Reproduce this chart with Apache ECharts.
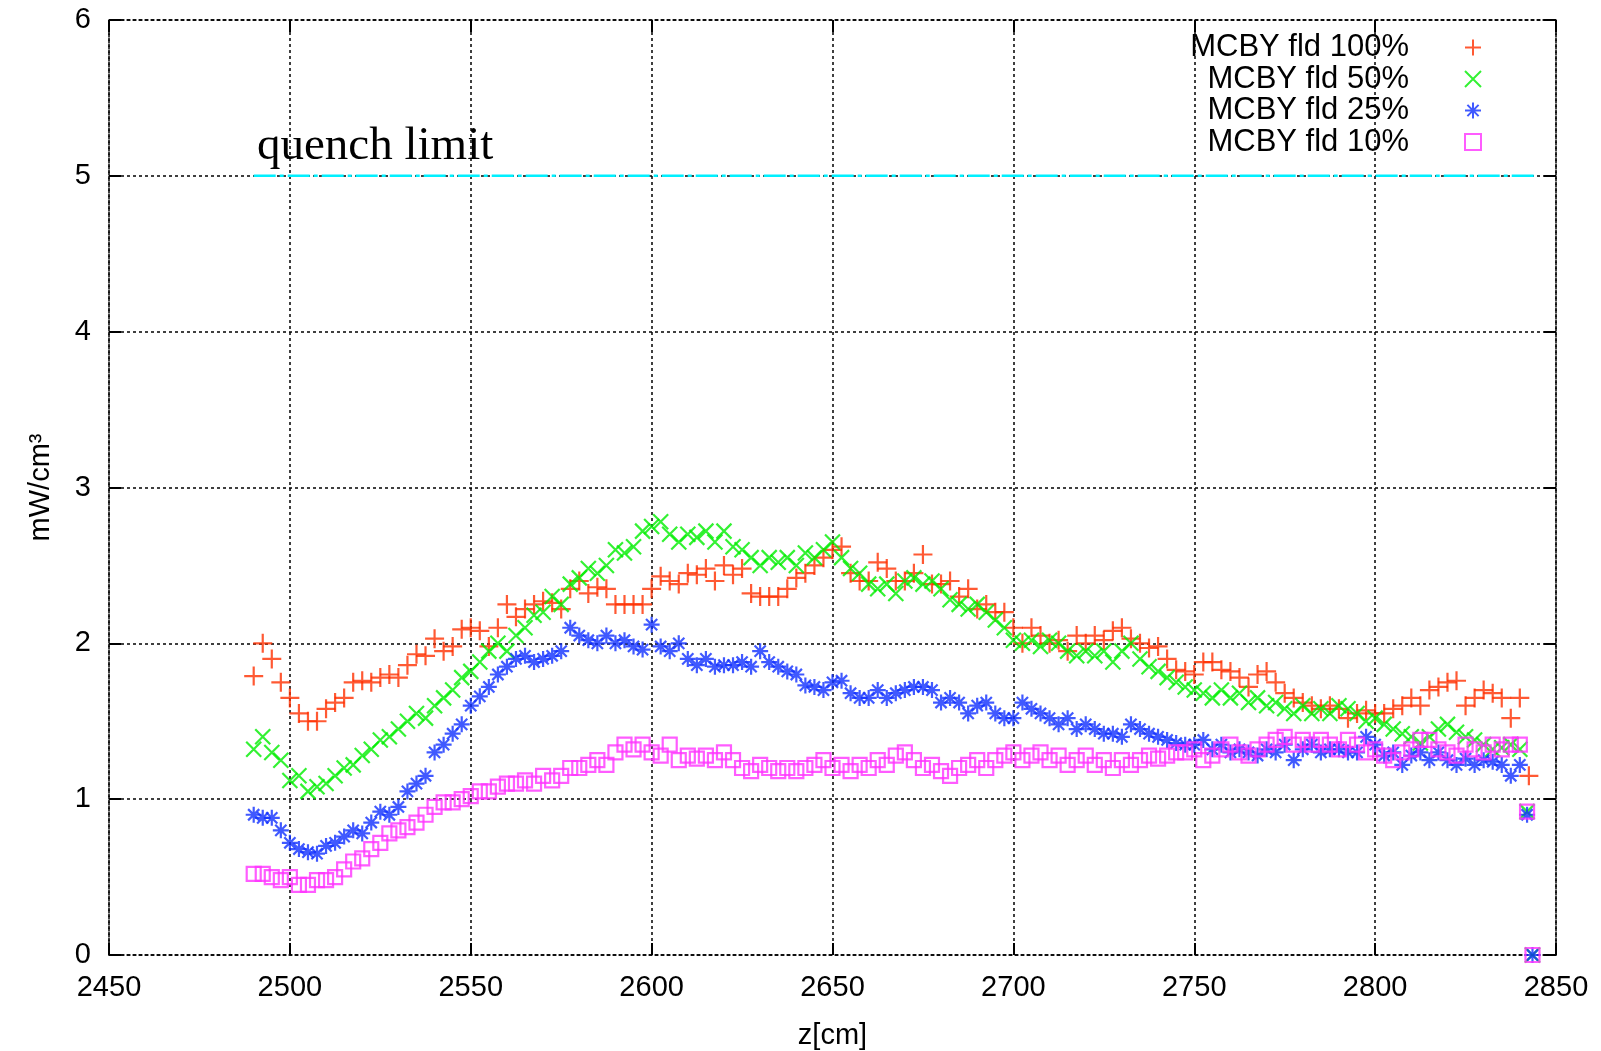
<!DOCTYPE html>
<html><head><meta charset="utf-8">
<script src="https://cdn.jsdelivr.net/npm/echarts@6/dist/echarts.min.js"></script>
<style>html,body{margin:0;padding:0;background:#fff}#c{width:1601px;height:1051px}</style>
</head><body><div id="c"></div>
<script>
// z positions [cm]
var zValues = [
2490,2492.5,2495,2497.5,2500,2502.5,2505,2507.5,2510,2512.5,
2515,2517.5,2520,2522.5,2525,2527.5,2530,2532.5,2535,2537.5,
2540,2542.5,2545,2547.5,2550,2552.5,2555,2557.5,2560,2562.5,
2565,2567.5,2570,2572.5,2575,2577.5,2580,2582.5,2585,2587.5,
2590,2592.5,2595,2597.5,2600,2602.5,2605,2607.5,2610,2612.5,
2615,2617.5,2620,2622.5,2625,2627.5,2630,2632.5,2635,2637.5,
2640,2642.5,2645,2647.5,2650,2652.5,2655,2657.5,2660,2662.5,
2665,2667.5,2670,2672.5,2675,2677.5,2680,2682.5,2685,2687.5,
2690,2692.5,2695,2697.5,2700,2702.5,2705,2707.5,2710,2712.5,
2715,2717.5,2720,2722.5,2725,2727.5,2730,2732.5,2735,2737.5,
2740,2742.5,2745,2747.5,2750,2752.5,2755,2757.5,2760,2762.5,
2765,2767.5,2770,2772.5,2775,2777.5,2780,2782.5,2785,2787.5,
2790,2792.5,2795,2797.5,2800,2802.5,2805,2807.5,2810,2812.5,
2815,2817.5,2820,2822.5,2825,2827.5,2830,2832.5,2835,2837.5,
2840];

var fld100 = [
1.79,2.0,1.9,1.75,1.65,1.55,1.5,1.5,1.58,1.62,
1.65,1.75,1.76,1.75,1.78,1.8,1.78,1.86,1.93,1.92,
2.03,1.95,1.98,2.09,2.1,2.08,1.98,2.1,2.25,2.17,
2.22,2.25,2.27,2.26,2.22,2.35,2.4,2.32,2.36,2.35,
2.25,2.25,2.25,2.25,2.35,2.43,2.4,2.38,2.45,2.44,
2.48,2.4,2.5,2.44,2.48,2.32,2.3,2.3,2.3,2.35,
2.42,2.45,2.5,2.55,2.6,2.62,2.45,2.4,2.4,2.52,
2.48,2.4,2.4,2.45,2.57,2.38,2.38,2.4,2.3,2.35,
2.22,2.25,2.2,2.2,2.1,2.0,2.1,2.05,2.0,2.02,
1.95,2.05,2.0,2.05,2.02,2.08,2.1,2.03,2.0,1.97,
1.98,1.9,1.83,1.82,1.8,1.88,1.88,1.83,1.82,1.78,
1.72,1.8,1.82,1.75,1.68,1.65,1.62,1.6,1.58,1.6,
1.58,1.52,1.55,1.57,1.55,1.55,1.58,1.6,1.65,1.6,
1.7,1.72,1.75,1.76,1.6,1.65,1.7,1.68,1.65,1.52,
1.65];
var fld100Tail = [[2842.5, 1.15]];

var fld50 = [
1.32,1.4,1.3,1.25,1.12,1.15,1.05,1.08,1.1,1.15,
1.2,1.22,1.28,1.32,1.38,1.4,1.45,1.5,1.55,1.52,
1.6,1.65,1.7,1.78,1.82,1.88,1.95,2.0,1.95,2.05,
2.1,2.18,2.2,2.3,2.25,2.38,2.42,2.48,2.45,2.5,
2.6,2.58,2.62,2.72,2.75,2.78,2.7,2.65,2.7,2.68,
2.72,2.65,2.72,2.62,2.6,2.55,2.5,2.55,2.52,2.55,
2.5,2.58,2.55,2.6,2.65,2.55,2.48,2.45,2.38,2.35,
2.38,2.32,2.4,2.42,2.38,2.4,2.35,2.28,2.25,2.22,
2.25,2.2,2.15,2.1,2.02,2.0,2.02,1.98,2.02,2.0,
1.95,1.92,1.95,1.92,1.95,1.88,1.95,2.0,1.9,1.85,
1.82,1.78,1.75,1.72,1.7,1.68,1.65,1.7,1.65,1.68,
1.62,1.65,1.6,1.62,1.58,1.55,1.6,1.55,1.58,1.55,
1.6,1.58,1.55,1.5,1.52,1.48,1.45,1.42,1.4,1.36,
1.4,1.45,1.48,1.43,1.4,1.38,1.35,1.32,1.33,1.35,
1.32];
var fld50Tail = [[2842, 0.92], [2843.5, 0]];

var fld25 = [
0.9,0.88,0.88,0.8,0.72,0.68,0.66,0.65,0.7,0.72,
0.76,0.8,0.78,0.85,0.92,0.9,0.95,1.05,1.1,1.15,
1.3,1.35,1.42,1.48,1.6,1.66,1.72,1.8,1.85,1.9,
1.92,1.88,1.9,1.92,1.95,2.1,2.05,2.02,2.0,2.05,
2.0,2.02,1.98,1.96,2.12,1.98,1.95,2.0,1.9,1.86,
1.9,1.85,1.86,1.86,1.88,1.85,1.95,1.88,1.85,1.82,
1.8,1.73,1.72,1.7,1.75,1.76,1.68,1.65,1.65,1.7,
1.65,1.68,1.7,1.72,1.72,1.7,1.62,1.65,1.62,1.55,
1.6,1.62,1.55,1.52,1.52,1.62,1.58,1.55,1.52,1.48,
1.52,1.45,1.48,1.45,1.42,1.42,1.4,1.48,1.45,1.42,
1.4,1.38,1.36,1.35,1.35,1.38,1.32,1.35,1.3,1.32,
1.3,1.28,1.32,1.3,1.35,1.25,1.32,1.35,1.3,1.32,
1.32,1.3,1.3,1.4,1.35,1.28,1.3,1.22,1.28,1.3,
1.25,1.3,1.25,1.22,1.26,1.22,1.25,1.24,1.22,1.15,
1.22];
var fld25Tail = [[2842, 0.9], [2843.5, 0]];

var fld10 = [
0.52,0.52,0.5,0.48,0.5,0.45,0.45,0.48,0.48,0.5,
0.55,0.6,0.62,0.68,0.72,0.78,0.8,0.82,0.85,0.9,
0.95,0.98,0.98,1.0,1.02,1.05,1.05,1.08,1.1,1.1,
1.12,1.1,1.15,1.12,1.15,1.2,1.2,1.22,1.25,1.22,
1.3,1.35,1.32,1.35,1.3,1.28,1.35,1.25,1.28,1.26,
1.28,1.25,1.3,1.25,1.2,1.18,1.22,1.2,1.18,1.2,
1.18,1.2,1.22,1.25,1.2,1.22,1.18,1.22,1.2,1.25,
1.22,1.28,1.3,1.25,1.2,1.22,1.18,1.15,1.2,1.22,
1.25,1.2,1.25,1.28,1.3,1.25,1.28,1.3,1.25,1.28,
1.22,1.25,1.28,1.22,1.25,1.2,1.25,1.22,1.25,1.28,
1.26,1.28,1.3,1.3,1.32,1.25,1.28,1.32,1.35,1.3,
1.28,1.32,1.35,1.38,1.4,1.35,1.38,1.35,1.38,1.35,
1.32,1.38,1.35,1.3,1.32,1.28,1.25,1.3,1.32,1.38,
1.38,1.32,1.3,1.28,1.35,1.32,1.3,1.35,1.32,1.35,
1.35];
var fld10Tail = [[2842, 0.92], [2843.5, 0]];

var quenchZ = [2490, 2844];
var quenchLimit = [5, 5];

var seriesNames = ['MCBY fld 100%', 'MCBY fld 50%', 'MCBY fld 25%', 'MCBY fld 10%'];
var xTicks = [2450, 2850, 50];
var yTicks = [0, 6, 1];

function pairs(z, v, tail) {
  var out = [];
  for (var i = 0; i < v.length; i++) out.push([z[i], v[i]]);
  return out.concat(tail);
}

var SYM_PLUS = 'path://M5 0L5 10M0 5L10 5';
var SYM_X = 'path://M0 0L10 10M10 0L0 10';
var SYM_STAR = 'path://M5 0L5 10M0 5L10 5M1.5 1.5L8.5 8.5M8.5 1.5L1.5 8.5';
var SYM_SQ = 'path://M0 0L10 0L10 10L0 10Z';

var FONT = 'Liberation Sans';
var grid = {left: 109, right: 45, top: 20, bottom: 96, containLabel: false, outerBoundsMode: 'none'};
var dotted = {color: '#000', width: 1.5, type: [3, 3]};

function xAx(pos, labels) {
  return {
    type: 'value', position: pos, min: xTicks[0], max: xTicks[1], interval: xTicks[2],
    name: labels ? 'z[cm]' : '', nameLocation: 'middle', nameGap: 66,
    nameTextStyle: {fontFamily: FONT, fontSize: 29, color: '#000'},
    axisLine: {show: true, onZero: false, lineStyle: dotted},
    axisTick: {show: true, inside: true, length: 12, lineStyle: {color: '#000', width: 2}},
    axisLabel: {show: labels, fontFamily: FONT, fontSize: 29, color: '#000', margin: 18,
      formatter: function (v) { return String(v); }},
    splitLine: {show: labels, lineStyle: dotted}
  };
}
function yAx(pos, labels) {
  return {
    type: 'value', position: pos, min: yTicks[0], max: yTicks[1], interval: yTicks[2],
    name: labels ? 'mW/cm³' : '', nameLocation: 'middle', nameGap: 54, nameRotate: 90,
    nameTextStyle: {fontFamily: FONT, fontSize: 29, color: '#000'},
    axisLine: {show: true, onZero: false, lineStyle: dotted},
    axisTick: {show: true, inside: true, length: 12, lineStyle: {color: '#000', width: 2}},
    axisLabel: {show: labels, fontFamily: FONT, fontSize: 29, color: '#000', margin: 18},
    splitLine: {show: labels, lineStyle: dotted}
  };
}

function scat(name, sym, size, color, data) {
  return {
    name: name, type: 'scatter', xAxisIndex: 0, yAxisIndex: 0,
    symbol: sym, symbolSize: size, data: data, animation: false,
    itemStyle: {color: 'rgba(0,0,0,0)', borderColor: color, borderWidth: 2.2},
    emphasis: {disabled: true}
  };
}

var chart = echarts.init(document.getElementById('c'), null, {renderer: 'canvas'});
chart.setOption({
  backgroundColor: '#fff',
  animation: false,
  grid: grid,
  xAxis: [xAx('bottom', true), xAx('top', false)],
  yAxis: [yAx('left', true), yAx('right', false)],
  legend: {
    data: seriesNames, orient: 'vertical', align: 'right',
    right: 119, top: 32, padding: 0, itemGap: 0.5,
    itemWidth: 118, itemHeight: 16, symbolKeepAspect: true,
    textStyle: {fontFamily: FONT, fontSize: 31, color: '#000', lineHeight: 31}
  },
  graphic: [{
    type: 'text', left: 257, top: 123, silent: true,
    style: {text: 'quench limit', font: '47px "Liberation Serif"', fill: '#000'}
  }],
  series: [
    {
      name: 'quench limit', type: 'line', symbol: 'none', animation: false,
      data: [[quenchZ[0], quenchLimit[0]], [quenchZ[1], quenchLimit[1]]],
      lineStyle: {color: '#00f0ff', width: 2.5, type: [22, 4, 4, 4]}, z: 3
    },
    scat(seriesNames[0], SYM_PLUS, 19, '#ff3000', pairs(zValues, fld100, fld100Tail)),
    scat(seriesNames[1], SYM_X, 15, '#00ee00', pairs(zValues, fld50, fld50Tail)),
    scat(seriesNames[2], SYM_STAR, 16, '#1030ff', pairs(zValues, fld25, fld25Tail)),
    scat(seriesNames[3], SYM_SQ, 14, '#ff33ff', pairs(zValues, fld10, fld10Tail))
  ]
});
</script>
</body></html>
